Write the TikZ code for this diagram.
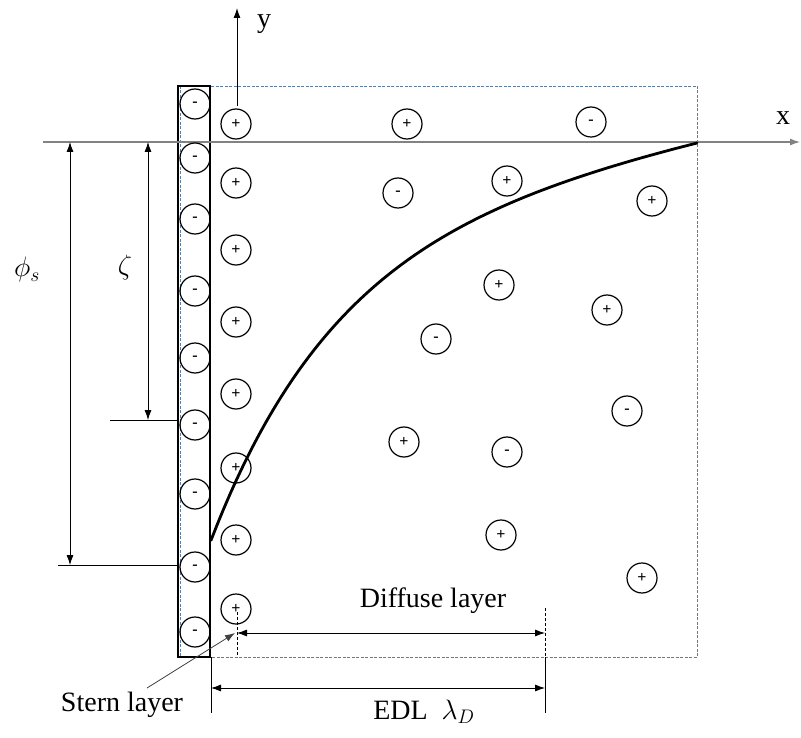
\documentclass[tikz,border=0pt]{standalone}
\usepackage{fix-cm}
\usepackage{fontspec}
\setmainfont{Liberation Serif}
\usetikzlibrary{arrows.meta}
\definecolor{boxblue}{RGB}{95,125,155}
\definecolor{axisgray}{RGB}{130,130,130}
\tikzset{
  ion/.style={circle,draw=black,line width=1.2pt,minimum size=30pt,inner sep=0pt,font=\fontsize{16}{16}\selectfont\bfseries},
  dimline/.style={line width=0.8pt,{Latex[length=10pt,width=7pt]}-{Latex[length=10pt,width=7pt]}},
  thinline/.style={line width=0.8pt},
  lbl/.style={font=\fontsize{28}{30}\selectfont,inner sep=0pt},
  axis/.style={draw=axisgray,line width=1.2pt,-{Latex[length=10pt,width=7pt]}}
}
\begin{document}
\begin{tikzpicture}[x=1pt,y=-1pt]
\useasboundingbox (0,0) rectangle (801,738);
% dashed region
\draw[boxblue,line width=0.9pt,dash pattern=on 3pt off 1.5pt] (180,86) rectangle (697,657);
% wall
\draw[line width=1.5pt] (178,86) rectangle (210,657);
% axes
\coordinate (xs) at (43,142);
\coordinate (xe) at (800,142);
\draw[axis] (xs) -- (xe);
\coordinate (ys) at (237,106);
\coordinate (ye) at (237,8);
\draw[line width=1pt,-{Latex[length=10pt,width=7pt]}] (ys) -- (ye);
\node[lbl] (xl) at (783,118) {x};
\node[lbl] (yl) at (264,24) {y};
% wall ions
\foreach \i/\yy in {1/104,2/158,3/219,4/291,5/358,6/425,7/494,8/567,9/632}
  \node[ion] (w\i) at (195,\yy) {-};
% stern plus ions
\foreach \i/\yy in {1/124,2/183,3/250,4/322,5/394,6/468,7/540,8/609}
  \node[ion] (s\i) at (236,\yy) {+};
% diffuse ions
\node[ion] (d1) at (407,124) {+};
\node[ion] (d2) at (591,122) {-};
\node[ion] (d3) at (398,193) {-};
\node[ion] (d4) at (507,181) {+};
\node[ion] (d5) at (652,201) {+};
\node[ion] (d6) at (499,285) {+};
\node[ion] (d7) at (607,310) {+};
\node[ion] (d8) at (436,339) {-};
\node[ion] (d9) at (627,411) {-};
\node[ion] (d10) at (404,442) {+};
\node[ion] (d11) at (507,452) {-};
\node[ion] (d12) at (501,535) {+};
\node[ion] (d13) at (642,578) {+};
% potential curve
\draw[line width=2.8pt,line cap=round] plot[domain=211:697,samples=80,smooth]
  (\x,{143+0.2*(697-\x)+307*(exp(-(\x-211)/128)-0.0224)});
% phi_s dimension
\coordinate (pt) at (70,142);
\coordinate (pb) at (70,565);
\draw[dimline] (pt) -- (pb);
\coordinate (pk1) at (58,565);
\coordinate (pk2) at (178,565);
\draw[thinline] (pk1) -- (pk2);
\node[lbl] (phil) at (27,270) {$\phi_s$};
% zeta dimension
\coordinate (zt) at (148,142);
\coordinate (zb) at (148,420);
\draw[dimline] (zt) -- (zb);
\coordinate (zk1) at (110,420);
\coordinate (zk2) at (178,420);
\draw[thinline] (zk1) -- (zk2);
\node[lbl] (zetal) at (125,268) {$\zeta$};
% diffuse layer dimension
\coordinate (dl1) at (237,612);
\coordinate (dl2) at (237,657);
\coordinate (dr1) at (545,608);
\coordinate (dr2) at (545,657);
\draw[thinline,dash pattern=on 3pt off 2pt] (dl1) -- (dl2);
\draw[thinline,dash pattern=on 3pt off 2pt] (dr1) -- (dr2);
\coordinate (da) at (237,633);
\coordinate (db) at (545,633);
\draw[dimline] (da) -- (db);
\node[lbl] (diffl) at (433,601) {Diffuse layer};
% EDL dimension
\coordinate (el1) at (211,657);
\coordinate (el2) at (211,713);
\coordinate (er1) at (545,657);
\coordinate (er2) at (545,713);
\draw[thinline] (el1) -- (el2);
\draw[thinline] (er1) -- (er2);
\coordinate (ea) at (211,688);
\coordinate (eb) at (545,688);
\draw[dimline] (ea) -- (eb);
\node[lbl] (edll) at (424,712) {EDL\ \ $\lambda_D$};
% Stern layer
\node[lbl] (sternl) at (122,705) {Stern layer};
\coordinate (st1) at (147,688);
\coordinate (st2) at (235,633);
\draw[line width=0.8pt,draw=black!75,-{Latex[length=10pt,width=7pt]}] (st1) -- (st2);
\end{tikzpicture}
\end{document}
